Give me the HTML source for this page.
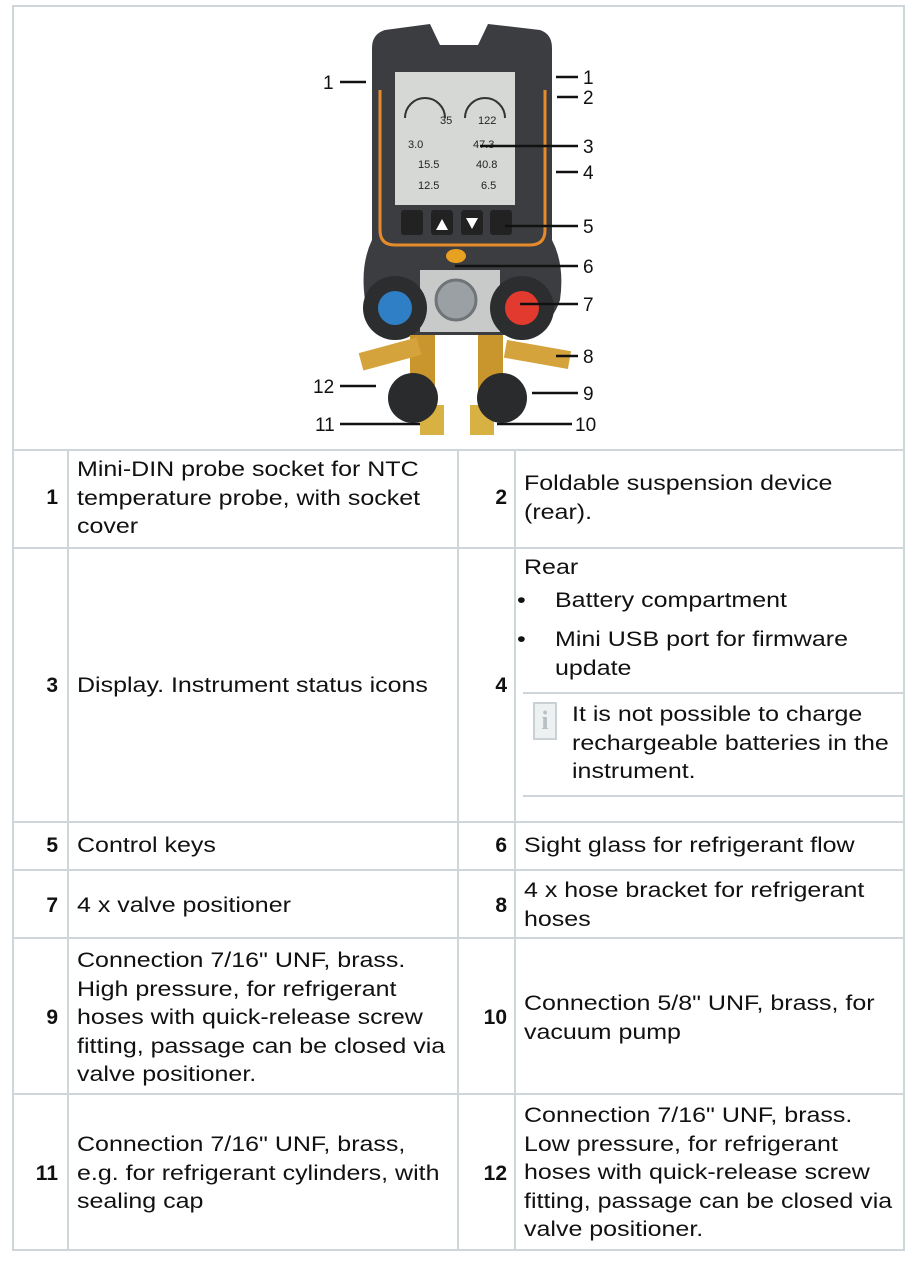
<!DOCTYPE html>
<html><head><meta charset="utf-8"><style>
body{margin:0;width:921px;height:1271px;background:#fff;position:relative;overflow:hidden;font-family:"Liberation Sans",Arial,sans-serif;color:#111}
.h{position:absolute;height:2px;background:#cfd6da}
.v{position:absolute;width:2px;background:#cfd6da}
.t{position:absolute;font-size:21px;line-height:28.5px;transform:scaleX(1.19);transform-origin:0 0;white-space:nowrap}
.n{position:absolute;font-size:21px;font-weight:bold;text-align:right;line-height:28px}
</style></head><body>
<div class="h" style="left:12px;top:5px;width:893px"></div>
<div class="h" style="left:12px;top:449px;width:893px"></div>
<div class="h" style="left:12px;top:547px;width:893px"></div>
<div class="h" style="left:12px;top:821px;width:893px"></div>
<div class="h" style="left:12px;top:869px;width:893px"></div>
<div class="h" style="left:12px;top:937px;width:893px"></div>
<div class="h" style="left:12px;top:1093px;width:893px"></div>
<div class="h" style="left:12px;top:1249px;width:893px"></div>
<div class="v" style="left:12px;top:5px;height:1246px"></div>
<div class="v" style="left:903px;top:5px;height:1246px"></div>
<div class="v" style="left:67px;top:449px;height:802px"></div>
<div class="v" style="left:457px;top:449px;height:802px"></div>
<div class="v" style="left:514px;top:449px;height:802px"></div>
<div class="h" style="left:523px;top:692px;width:381px"></div>
<div class="h" style="left:523px;top:795px;width:381px"></div>

<svg style="position:absolute;left:0;top:0" width="921" height="450">
 <path d="M385 30 L430 24 L440 45 L478 45 L488 24 L540 30 Q552 34 552 48 L552 240 Q565 265 560 300 Q550 330 520 335 L400 335 Q372 330 365 300 Q360 265 372 240 L372 48 Q372 34 385 30Z" fill="#3b3d40"/>
 <path d="M380 90 L380 230 Q380 245 395 245 L530 245 Q545 245 545 230 L545 90" fill="none" stroke="#e58b2a" stroke-width="3"/>
 <rect x="395" y="72" width="120" height="133" fill="#d6d8d6"/>
 <g font-family="Liberation Sans,sans-serif" font-size="11" fill="#222">
  <text x="440" y="124">35</text><text x="478" y="124">122</text>
  <text x="408" y="148">3.0</text><text x="473" y="148">47.3</text>
  <text x="418" y="168">15.5</text><text x="476" y="168">40.8</text>
  <text x="418" y="189">12.5</text><text x="481" y="189">6.5</text>
 </g>
 <path d="M405 118 A20 20 0 1 1 445 118" fill="none" stroke="#333" stroke-width="2"/>
 <path d="M465 118 A20 20 0 1 1 505 118" fill="none" stroke="#333" stroke-width="2"/>
 <rect x="401" y="210" width="22" height="25" rx="3" fill="#222"/>
 <rect x="431" y="210" width="22" height="25" rx="3" fill="#222"/>
 <rect x="461" y="210" width="22" height="25" rx="3" fill="#222"/>
 <rect x="490" y="210" width="22" height="25" rx="3" fill="#222"/>
 <path d="M436 230 L442 219 L448 230Z M466 218 L478 218 L472 229Z" fill="#fff"/>
 <ellipse cx="456" cy="256" rx="10" ry="7" fill="#e8a020"/>
 <rect x="420" y="270" width="80" height="62" fill="#c8c9c9"/>
 <circle cx="456" cy="300" r="20" fill="#9aa0a4" stroke="#6f7478" stroke-width="3"/>
 <circle cx="395" cy="308" r="32" fill="#2c2d2f"/><circle cx="395" cy="308" r="17" fill="#2e7fc6"/>
 <circle cx="522" cy="308" r="32" fill="#2c2d2f"/><circle cx="522" cy="308" r="17" fill="#e23a2e"/>
 <rect x="410" y="335" width="25" height="60" fill="#c8962c"/><rect x="478" y="335" width="25" height="60" fill="#c8962c"/>
 <rect x="360" y="345" width="60" height="18" fill="#d4a33c" transform="rotate(-15 390 354)"/>
 <rect x="505" y="345" width="65" height="18" fill="#d4a33c" transform="rotate(10 535 354)"/>
 <rect x="420" y="405" width="24" height="30" fill="#d7b243"/><rect x="470" y="405" width="24" height="30" fill="#d7b243"/>
 <circle cx="413" cy="398" r="25" fill="#2a2b2d"/><circle cx="502" cy="398" r="25" fill="#2a2b2d"/>
 <g stroke="#111" stroke-width="2.5">
  <line x1="340" y1="82" x2="366" y2="82"/><line x1="556" y1="77" x2="578" y2="77"/>
  <line x1="557" y1="97" x2="578" y2="97"/><line x1="480" y1="146" x2="578" y2="146"/>
  <line x1="556" y1="172" x2="578" y2="172"/><line x1="505" y1="226" x2="578" y2="226"/>
  <line x1="455" y1="266" x2="578" y2="266"/><line x1="520" y1="304" x2="578" y2="304"/>
  <line x1="556" y1="356" x2="578" y2="356"/><line x1="532" y1="393" x2="578" y2="393"/>
  <line x1="497" y1="424" x2="572" y2="424"/><line x1="340" y1="424" x2="420" y2="424"/>
  <line x1="340" y1="386" x2="376" y2="386"/>
 </g>
 <g font-family="Liberation Sans,sans-serif" font-size="19" fill="#111">
  <text x="323" y="89">1</text><text x="583" y="84">1</text><text x="583" y="104">2</text>
  <text x="583" y="153">3</text><text x="583" y="179">4</text><text x="583" y="233">5</text>
  <text x="583" y="273">6</text><text x="583" y="311">7</text><text x="583" y="363">8</text>
  <text x="583" y="400">9</text><text x="575" y="431">10</text><text x="315" y="431">11</text>
  <text x="313" y="393">12</text>
 </g>
</svg>

<div class="n" style="left:20px;width:38px;top:484px">1</div>
<div class="t" style="left:77px;top:456px">Mini-DIN probe socket for NTC<br>temperature probe, with socket<br>cover</div>
<div class="n" style="left:470px;width:37px;top:484px">2</div>
<div class="t" style="left:524px;top:470px">Foldable suspension device<br>(rear).</div>

<div class="n" style="left:20px;width:38px;top:672px">3</div>
<div class="t" style="left:77px;top:672px">Display. Instrument status icons</div>
<div class="n" style="left:470px;width:37px;top:672px">4</div>
<div class="t" style="left:524px;top:554px">Rear</div>
<div class="t" style="left:517px;top:587px">•</div><div class="t" style="left:555px;top:587px">Battery compartment</div>
<div class="t" style="left:517px;top:626px">•</div><div class="t" style="left:555px;top:626px">Mini USB port for firmware<br>update</div>
<div style="position:absolute;left:533px;top:702px;width:20px;height:34px;border:2px solid #c9d1d5;background:#eef1f2;color:#b8c0c4;font:bold 26px 'Liberation Serif',serif;text-align:center;line-height:34px">i</div>
<div class="t" style="left:572px;top:701px">It is not possible to charge<br>rechargeable batteries in the<br>instrument.</div>

<div class="n" style="left:20px;width:38px;top:832px">5</div>
<div class="t" style="left:77px;top:832px">Control keys</div>
<div class="n" style="left:470px;width:37px;top:832px">6</div>
<div class="t" style="left:524px;top:832px">Sight glass for refrigerant flow</div>

<div class="n" style="left:20px;width:38px;top:892px">7</div>
<div class="t" style="left:77px;top:892px">4 x valve positioner</div>
<div class="n" style="left:470px;width:37px;top:892px">8</div>
<div class="t" style="left:524px;top:877px">4 x hose bracket for refrigerant<br>hoses</div>

<div class="n" style="left:20px;width:38px;top:1004px">9</div>
<div class="t" style="left:77px;top:947px">Connection 7/16" UNF, brass.<br>High pressure, for refrigerant<br>hoses with quick-release screw<br>fitting, passage can be closed via<br>valve positioner.</div>
<div class="n" style="left:470px;width:37px;top:1004px">10</div>
<div class="t" style="left:524px;top:990px">Connection 5/8" UNF, brass, for<br>vacuum pump</div>

<div class="n" style="left:20px;width:38px;top:1160px">11</div>
<div class="t" style="left:77px;top:1131px">Connection 7/16" UNF, brass,<br>e.g. for refrigerant cylinders, with<br>sealing cap</div>
<div class="n" style="left:470px;width:37px;top:1160px">12</div>
<div class="t" style="left:524px;top:1102px">Connection 7/16" UNF, brass.<br>Low pressure, for refrigerant<br>hoses with quick-release screw<br>fitting, passage can be closed via<br>valve positioner.</div>
</body></html>
